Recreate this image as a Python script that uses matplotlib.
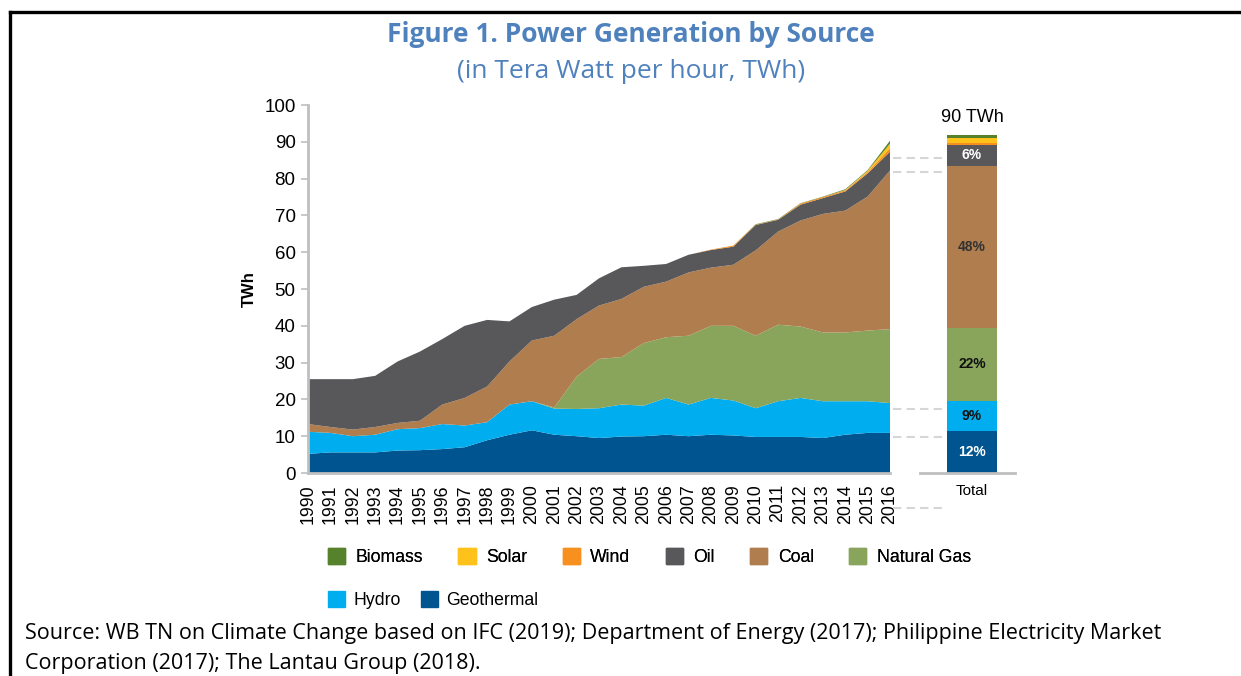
import matplotlib
matplotlib.use("Agg")
import matplotlib.pyplot as plt
from matplotlib.lines import Line2D
from matplotlib.patches import Patch
import numpy as np

years = list(range(1990, 2017))

geothermal = [5.2, 5.6, 5.6, 5.6, 6.1, 6.2, 6.5, 7.0, 8.9, 10.4, 11.6, 10.4, 10.0, 9.5,
              9.9, 10.0, 10.4, 10.0, 10.4, 10.2, 9.8, 9.8, 9.8, 9.5, 10.4, 10.9, 10.9]
hydro = [6.0, 5.3, 4.4, 4.8, 5.8, 6.0, 6.8, 5.9, 4.9, 8.2, 7.9, 7.1, 7.4, 8.1,
         8.7, 8.3, 10.0, 8.6, 10.0, 9.5, 7.8, 9.7, 10.6, 10.0, 9.1, 8.6, 8.1]
natural_gas = [0, 0, 0, 0, 0, 0, 0, 0, 0, 0, 0, 0.3, 8.8, 13.4,
               12.9, 17.0, 16.5, 18.7, 19.6, 20.3, 19.7, 20.8, 19.4, 18.7, 18.7, 19.2, 20.1]
coal = [2.1, 1.6, 1.8, 2.1, 1.7, 2.0, 5.3, 7.5, 9.7, 11.7, 16.5, 19.5, 15.6, 14.5,
        15.8, 15.3, 15.1, 17.2, 15.8, 16.6, 23.2, 25.3, 28.8, 32.2, 33.1, 36.4, 43.1]
oil = [12.2, 13.0, 13.7, 13.9, 16.7, 18.8, 17.8, 19.6, 18.1, 10.9, 9.1, 9.8, 6.6, 7.4,
       8.6, 5.7, 4.8, 4.8, 4.8, 4.9, 6.9, 3.2, 4.3, 4.3, 5.2, 6.3, 5.1]
wind = [0, 0, 0, 0, 0, 0, 0, 0, 0, 0, 0, 0, 0, 0,
        0, 0, 0, 0, 0.1, 0.3, 0.1, 0.1, 0.3, 0.3, 0.3, 0.4, 1.0]
solar = [0, 0, 0, 0, 0, 0, 0, 0, 0, 0, 0, 0, 0, 0,
         0, 0, 0, 0, 0, 0, 0, 0, 0, 0, 0.1, 0.3, 1.2]
biomass = [0, 0, 0, 0, 0, 0, 0, 0, 0, 0, 0, 0, 0, 0,
           0, 0, 0, 0, 0, 0, 0.1, 0.1, 0.1, 0.1, 0.2, 0.2, 0.8]

# total bar on the right (bottom to top)
total_sources = ["Geothermal", "Hydro", "Natural Gas", "Coal", "Oil", "Wind", "Solar", "Biomass"]
total_values = [11.3, 8.2, 20.0, 44.0, 5.7, 0.5, 1.4, 0.8]
total_labels = ["12%", "9%", "22%", "48%", "6%", "", "", ""]
total_label_colors = ["white", "#111111", "#111111", "#333333", "white", "", "", ""]

colors = {
    "Geothermal": "#00548F",
    "Hydro": "#00AEEF",
    "Natural Gas": "#88A55B",
    "Coal": "#B07D4F",
    "Oil": "#58585A",
    "Wind": "#F7901E",
    "Solar": "#FFC21A",
    "Biomass": "#55822B",
}

W, H = 1241, 676
fig = plt.figure(figsize=(W / 100, H / 100), dpi=100)
plt.rcParams['font.family'] = ['Liberation Sans', 'DejaVu Sans']

# frame lines
fig.add_artist(Line2D([10 / W, 1], [1 - 12 / H, 1 - 12 / H], color="black", lw=2.4))
fig.add_artist(Line2D([10 / W, 10 / W], [0, 1 - 12 / H], color="black", lw=2.4))

blue = "#4F81BD"
fig.text(631 / W, 1 - 34 / H, "Figure 1. Power Generation by Source", ha="center", va="center",
         fontsize=19, fontweight="bold", color=blue, family="Open Sans")
fig.text(631 / W, 1 - 72 / H, "(in Tera Watt per hour, TWh)", ha="center", va="center",
         fontsize=19, color=blue, family="Open Sans")

# main area chart
ax = fig.add_axes([308 / W, 1 - 473 / H, (890 - 308) / W, (473 - 105) / H])
layers = [geothermal, hydro, natural_gas, coal, oil, wind, solar, biomass]
names = ["Geothermal", "Hydro", "Natural Gas", "Coal", "Oil", "Wind", "Solar", "Biomass"]
ax.stackplot(years, np.array(layers), colors=[colors[n] for n in names], linewidth=0)
ax.set_xlim(1990, 2016)
ax.set_ylim(0, 100)
ax.set_yticks(range(0, 101, 10))
ax.set_xticks(years)
ax.set_xticklabels([str(y) for y in years], rotation=90, fontsize=12.8)
ax.tick_params(axis="x", length=0, pad=8)
ax.tick_params(axis="y", labelsize=13.5, length=5, width=1.2, color="#BFBFBF", pad=4)
for s in ["top", "right"]:
    ax.spines[s].set_visible(False)
for s in ["left", "bottom"]:
    ax.spines[s].set_color("#BFBFBF")
    ax.spines[s].set_linewidth(2)
ax.set_ylabel("TWh", fontsize=12, fontweight="bold", labelpad=5)

# total bar
ax2 = fig.add_axes([920 / W, 1 - 473 / H, 95 / W, (473 - 105) / H])
ax2.set_xlim(0, 1)
ax2.set_ylim(0, 100)
bx = 0.547
bottom = 0
for name, val, lab, lc in zip(total_sources, total_values, total_labels, total_label_colors):
    ax2.bar(bx, val, width=0.526, bottom=bottom, color=colors[name], linewidth=0)
    if lab:
        ax2.text(bx, bottom + val / 2, lab, ha="center", va="center", fontsize=10,
                 fontweight="bold", color=lc)
    bottom += val
ax2.text(bx, bottom + 2.5, "90 TWh", ha="center", va="bottom", fontsize=13)
ax2.set_xticks([bx])
ax2.set_xticklabels(["Total"], fontsize=11)
ax2.tick_params(axis="x", length=0, pad=8)
ax2.set_yticks([])
for s in ["top", "right", "left"]:
    ax2.spines[s].set_visible(False)
ax2.spines["bottom"].set_color("#BFBFBF")
ax2.spines["bottom"].set_linewidth(2)

# dashed connectors
for yp in [157.7, 171.7, 409, 436.7, 507.7]:
    fig.add_artist(Line2D([893 / W, 947 / W], [1 - yp / H, 1 - yp / H], color="#D6D6D6",
                          lw=1.5, dashes=(4, 2.5)))

# legend
row1 = ["Biomass", "Solar", "Wind", "Oil", "Coal", "Natural Gas"]
row2 = ["Hydro", "Geothermal"]
leg1 = fig.legend(handles=[Patch(color=colors[n], label=n) for n in row1], ncol=6,
                  loc="center left", bbox_to_anchor=(328 / W, 1 - 557 / H), frameon=False,
                  fontsize=12.7, handlelength=0.97, handleheight=0.97, handletextpad=0.6,
                  columnspacing=2.0, borderpad=0, borderaxespad=0)
fig.legend(handles=[Patch(color=colors[n], label=n) for n in row2], ncol=2,
           loc="center left", bbox_to_anchor=(328 / W, 1 - 600 / H), frameon=False,
           fontsize=12.7, handlelength=0.97, handleheight=0.97, handletextpad=0.45,
           columnspacing=1.15, borderpad=0, borderaxespad=0)
fig.add_artist(leg1)

fig.text(25 / W, 1 - 633 / H, "Source: WB TN on Climate Change based on IFC (2019); Department of Energy (2017); "
         "Philippine Electricity Market", ha="left", va="center", fontsize=15.5, family="Open Sans")
fig.text(25 / W, 1 - 664 / H, "Corporation (2017); The Lantau Group (2018).", ha="left", va="center",
         fontsize=15.5, family="Open Sans")

fig.savefig("out.png", dpi=100)
